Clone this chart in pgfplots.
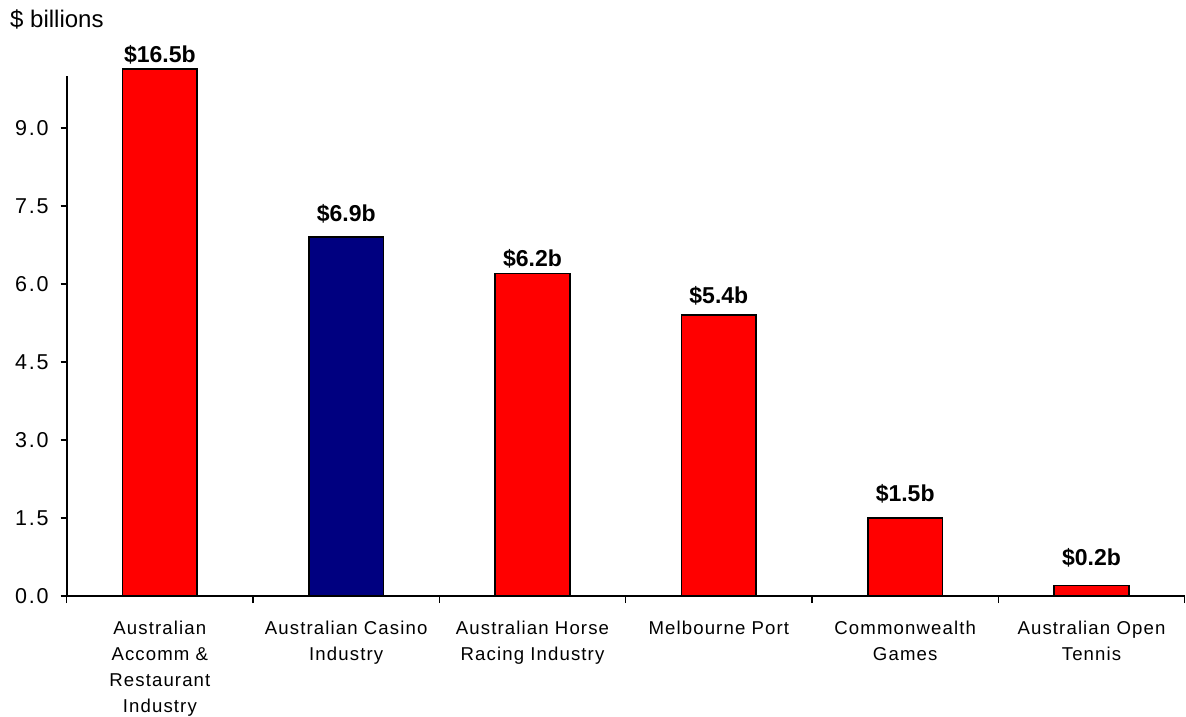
\documentclass[border=0pt]{standalone}
\usepackage{fontspec}
\setmainfont{Liberation Sans}
\newfontfamily\catfont[LetterSpace=6]{Liberation Sans}
\newfontfamily\tickfont[LetterSpace=8]{Liberation Sans}
\usepackage{pgfplots}
\pgfplotsset{compat=1.18}
\usepackage{pgfplotstable}
\definecolor{barred}{HTML}{FF0000}
\definecolor{barblue}{HTML}{000080}

\pgfplotstableread{
x y dy
0 16.5 6
2 6.2 7
3 5.4 12
4 1.5 16
5 0.2 20
}\redtable
\pgfplotstableread{
x y dy
1 6.9 15.5
}\bluetable

\begin{document}
\begin{tikzpicture}[x=1pt,y=1pt]
\begin{axis}[
  scale only axis, width=1118pt, height=527pt,
  xmin=-0.5, xmax=5.5, ymin=0, ymax=10.13,
  axis x line*=bottom, axis y line*=left,
  x axis line style={line width=1.8pt},
  y axis line style={draw=none},
  tick align=outside,
  tick style={black, line width=1.6pt},
  major tick length=6pt,
  minor tick length=7pt,
  major x tick style={draw=none},
  xtick={0,1,2,3,4,5},
  minor xtick={-0.5,0.5,1.5,2.5,3.5,4.5,5.5},
  xticklabels={{Australian\\Accomm \&\\Restaurant\\Industry},{Australian Casino\\Industry},{Australian Horse\\Racing Industry},{Melbourne Port},{Commonwealth\\Games},{Australian Open\\Tennis}},
  xticklabel style={font=\catfont\fontsize{18.6}{26}\selectfont, align=center, anchor=north, inner sep=0pt, yshift=-19pt},
  ytick={0,1.5,3,4.5,6,7.5,9},
  yticklabel style={font=\tickfont\fontsize{21.5}{24}\selectfont, anchor=east, inner sep=0pt, xshift=-12pt, /pgf/number format/.cd, fixed, fixed zerofill, precision=1, assume math mode=true},
  ybar, bar width=0.4, bar shift=0pt,
  restrict y to domain*=0:10.13,
  clip=false,
  nodes near coords={\$\pgfmathprintnumber[fixed,fixed zerofill,precision=1,assume math mode=true]{\pgfplotspointmeta}b},
  visualization depends on={\thisrow{dy} \as \dy},
  every node near coord/.append style={font=\fontsize{23}{27}\selectfont\bfseries, anchor=base, inner sep=0pt, yshift=\dy pt, text=black},
]
\addplot[fill=barred, draw=black, line width=1.8pt, point meta=explicit] table[x=x, y=y, meta=y] {\redtable};
\addplot[fill=barblue, draw=black, line width=1.8pt, point meta=explicit] table[x=x, y=y, meta=y] {\bluetable};
\draw[line width=1.8pt] (axis cs:-0.5,0) -- (axis cs:-0.5,10);
\end{axis}
\node[anchor=base west, inner sep=0pt, font=\fontsize{24}{28}\selectfont] at (-56.7,568.7) {\$ billions};
\pgfresetboundingbox
\useasboundingbox (-66.7,-121) rectangle (1119.3,596);
\end{tikzpicture}
\end{document}
